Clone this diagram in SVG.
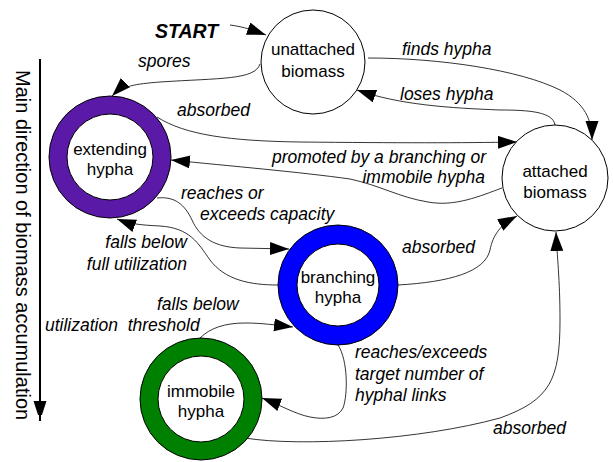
<svg xmlns="http://www.w3.org/2000/svg" width="613" height="462" viewBox="0 0 613 462">
<style>
.node{font-family:"Liberation Sans",Arial,sans-serif;font-size:17px;fill:#000;text-anchor:middle}
.lbl{font-family:"Liberation Sans",Arial,sans-serif;font-size:17.5px;font-style:italic;fill:#000}
.edge{fill:none;stroke:#000;stroke-width:0.8}
.ring{stroke:#000;stroke-width:1}
.inner{fill:#fff;stroke:#000;stroke-width:1}
</style>
<defs>
<marker id="ah" markerUnits="userSpaceOnUse" markerWidth="20" markerHeight="14" refX="19" refY="6.5" orient="auto">
<path d="M0,0 L19,6.5 L0,13 z" fill="#000"/>
</marker>
<marker id="axh" markerUnits="userSpaceOnUse" markerWidth="14" markerHeight="20" refX="20" refY="6.5" orient="auto">
<path d="M0,0 L20,6.5 L0,13 z" fill="#000"/>
</marker>
</defs>
<rect width="613" height="462" fill="#fff"/>

<g id="axis">
<line x1="40" y1="59" x2="40" y2="421" stroke="#000" stroke-width="2" marker-end="url(#axh)"/>
<text transform="translate(16,70) rotate(90)" style="font-family:'Liberation Sans',Arial,sans-serif;font-size:20px;fill:#000">Main direction of biomass accumulation</text>
</g>

<g id="connectors">
<path class="edge" d="M230,25 C245,27 252,30 266,35" marker-end="url(#ah)"/>
<path class="edge" d="M260,64 C255,80 220,78 160,82 C135,84 122,86 112,96" marker-end="url(#ah)"/>
<path class="edge" d="M157,117 C185,135 230,141 300,142 C400,143 460,143 517,142" marker-end="url(#ah)"/>
<path class="edge" d="M502,188 C480,196 455,207 428,202 C398,197 382,186 350,179 C300,172 230,166 171,160" marker-end="url(#ah)"/>
<path class="edge" d="M368,58 C440,58 520,70 560,90 C585,103 592,120 592,140" marker-end="url(#ah)"/>
<path class="edge" d="M555,125 C553,112 530,110 500,110 C450,108 400,105 357,90" marker-end="url(#ah)"/>
<path class="edge" d="M157,198 C175,196 185,205 192,220 C200,238 215,247 240,248 L289,249" marker-end="url(#ah)"/>
<path class="edge" d="M278,285 C250,285 225,280 210,260 C198,243 190,228 160,226 C140,225 130,224 117,219" marker-end="url(#ah)"/>
<path class="edge" d="M398,285 C450,282 485,272 490,250 C493,235 500,225 517,216" marker-end="url(#ah)"/>
<path class="edge" d="M200,338 C210,328 225,323 245,323 C262,323 275,325 293,327" marker-end="url(#ah)"/>
<path class="edge" d="M338,345 C348,360 348,395 343,408 C338,418 325,420 310,417 C295,414 280,405 262,398" marker-end="url(#ah)"/>
<path class="edge" d="M245,438 C300,447 420,440 500,418 C550,400 560,380 560,320 C560,280 557,255 556,232" marker-end="url(#ah)"/>
</g>

<g id="unattached">
<circle cx="313" cy="62" r="52" fill="#fff" stroke="#000" stroke-width="1"/>
<text class="node" x="313" y="55">unattached</text>
<text class="node" x="313" y="77">biomass</text>
</g>
<g id="attached">
<circle cx="555" cy="178" r="53" fill="#fff" stroke="#000" stroke-width="1"/>
<text class="node" x="555" y="177">attached</text>
<text class="node" x="555" y="198">biomass</text>
</g>
<g id="extending">
<circle class="ring" cx="110" cy="157" r="61" fill="#5b19a8"/>
<circle class="inner" cx="110" cy="157" r="43"/>
<text class="node" x="110" y="155">extending</text>
<text class="node" x="110" y="175">hypha</text>
</g>
<g id="branching">
<circle class="ring" cx="338" cy="285" r="60" fill="#0000ff"/>
<circle class="inner" cx="338" cy="285" r="41"/>
<text class="node" x="338" y="283">branching</text>
<text class="node" x="338" y="303">hypha</text>
</g>
<g id="immobile">
<circle class="ring" cx="201" cy="399" r="61" fill="#008000"/>
<circle class="inner" cx="201" cy="399" r="43"/>
<text class="node" x="201" y="397">immobile</text>
<text class="node" x="201" y="417">hypha</text>
</g>

<g id="labels">
<text x="155" y="38" style="font-family:'Liberation Sans',Arial,sans-serif;font-size:19.5px;font-weight:bold;font-style:italic">START</text>
<text class="lbl" x="138" y="67">spores</text>
<text class="lbl" x="177" y="116">absorbed</text>
<text class="lbl" x="486" y="163" text-anchor="end">promoted by a branching or</text>
<text class="lbl" x="485" y="183" text-anchor="end">immobile hypha</text>
<text class="lbl" x="402" y="55">finds hypha</text>
<text class="lbl" x="400" y="100">loses hypha</text>
<text class="lbl" x="181" y="199">reaches or</text>
<text class="lbl" x="200" y="220">exceeds capacity</text>
<text class="lbl" x="187" y="248" text-anchor="end">falls below</text>
<text class="lbl" x="187" y="270" text-anchor="end">full utilization</text>
<text class="lbl" x="157" y="310">falls below</text>
<text class="lbl" x="45" y="331" xml:space="preserve">utilization  threshold</text>
<text class="lbl" x="402" y="253">absorbed</text>
<text class="lbl" x="355" y="358">reaches/exceeds</text>
<text class="lbl" x="355" y="380">target number of</text>
<text class="lbl" x="355" y="401">hyphal links</text>
<text class="lbl" x="493" y="434">absorbed</text>
</g>
</svg>
